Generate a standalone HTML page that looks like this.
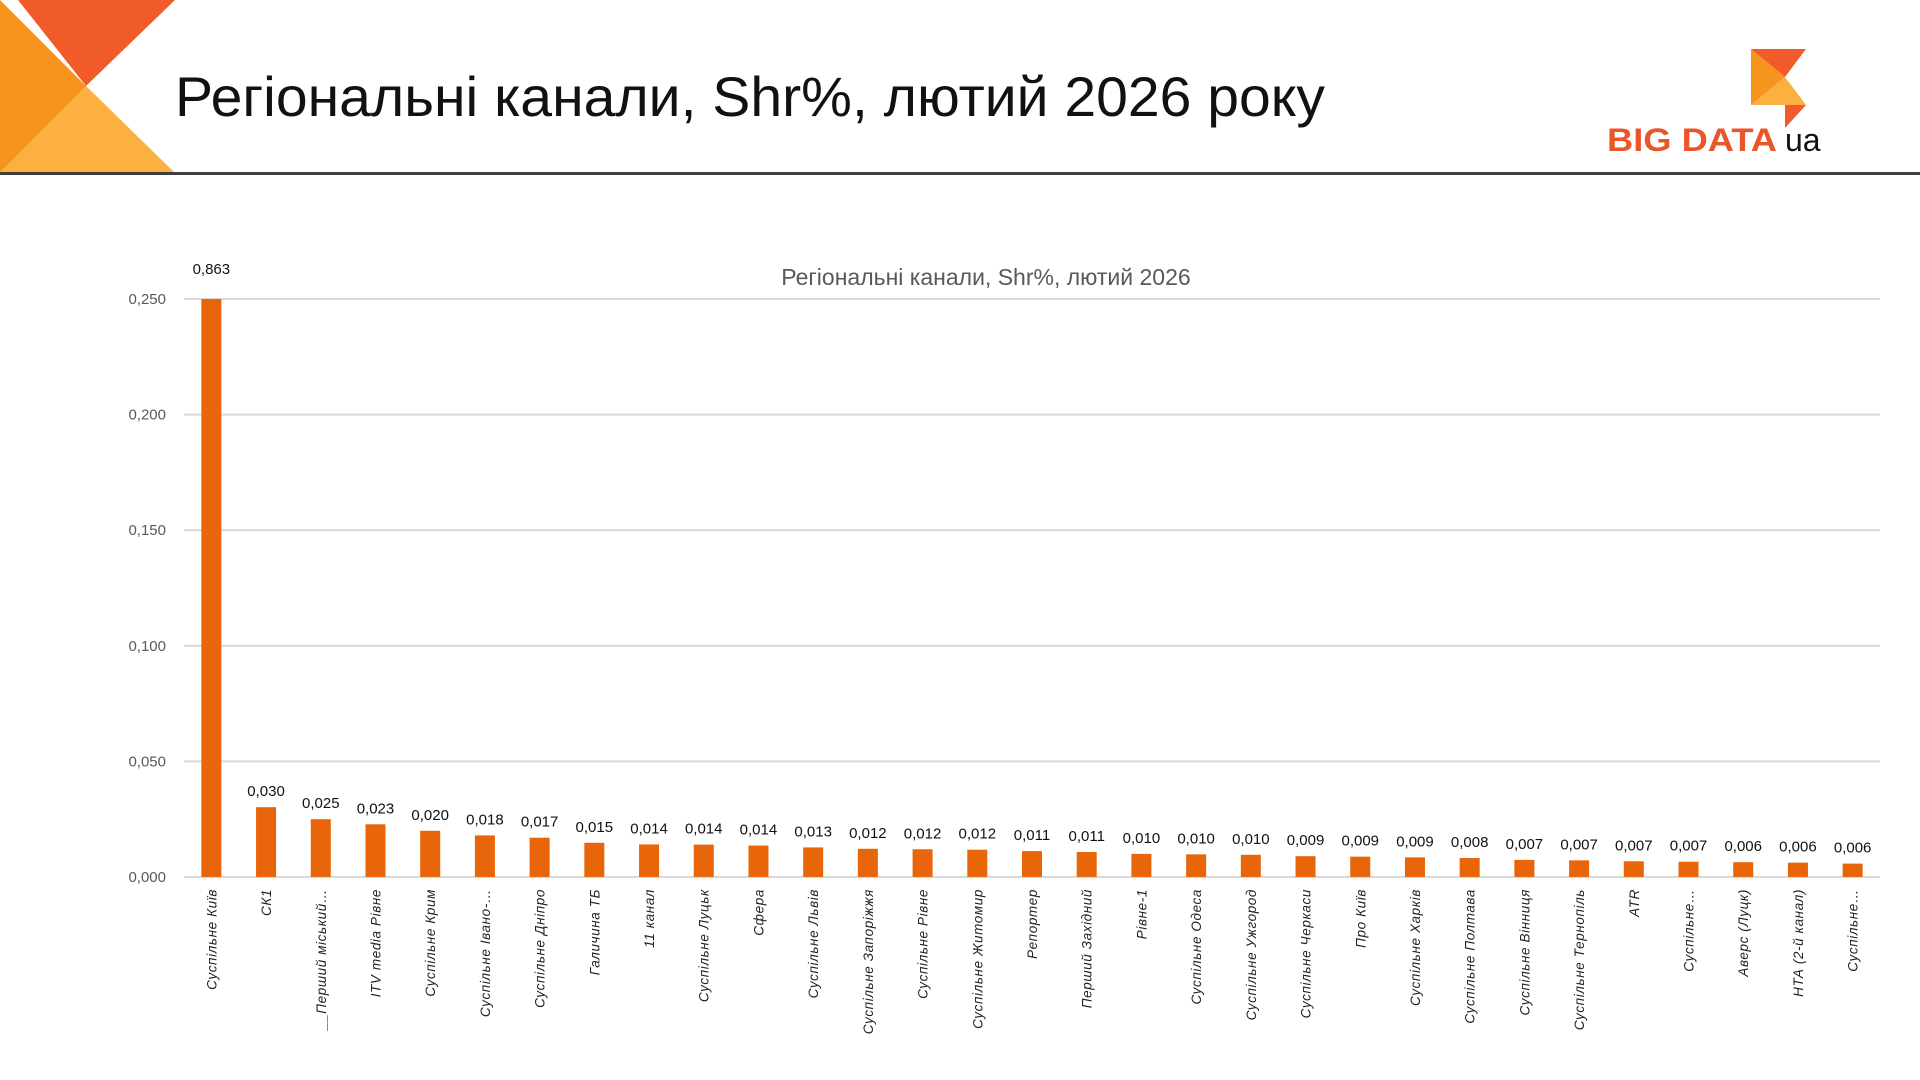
<!DOCTYPE html>
<html><head><meta charset="utf-8">
<style>
html,body{margin:0;padding:0;background:#fff;width:1920px;height:1080px;overflow:hidden}
svg{display:block;font-family:"Liberation Sans","DejaVu Sans",sans-serif}
</style></head>
<body>
<svg id="root" width="1920" height="1080" viewBox="0 0 1920 1080">
  <g>
    <polygon points="0,0 175,0 175,173 0,173" fill="#fff"/>
    <polygon points="0,0 86,86 0,173" fill="#F7941D"/>
    <polygon points="18,0 175,0 86,86" fill="#F15A29"/>
    <polygon points="0,173 86,86 175,173" fill="#FBB040"/>
  </g>
  <text x="175" y="116" font-size="56" fill="#111" textLength="1150" lengthAdjust="spacingAndGlyphs">Регіональні канали, Shr%, лютий 2026 року</text>
  <rect x="0" y="172" width="1920" height="3" fill="#404040"/>
  <g>
    <polygon points="1751,49 1806,49 1785,77" fill="#F15A29"/>
    <polygon points="1751,49 1785,77 1751,105" fill="#F7941D"/>
    <polygon points="1751,105 1785,77 1806,105" fill="#FBB040"/>
    <polygon points="1785,105 1806,105 1785,128" fill="#F15A29"/>
    <text x="1607" y="151" font-size="32" font-weight="bold" fill="#E8562A" textLength="170" lengthAdjust="spacingAndGlyphs">BIG DATA</text>
    <text x="1785" y="151" font-size="32" fill="#111">ua</text>
  </g>
  <text x="986" y="285" font-size="23" fill="#595959" text-anchor="middle">Регіональні канали, Shr%, лютий 2026</text>
  <g id="grid"></g>
  <g id="yaxis"></g>
  <g id="bars"></g>
  <g id="xaxis"></g>
</svg>
<script>
const categories = ["Суспільне Київ","СК1","__Перший міський…","ITV media Рівне","Суспільне Крим","Суспільне Івано-…","Суспільне Дніпро","Галичина ТБ","11 канал","Суспільне Луцьк","Сфера","Суспільне Львів","Суспільне Запоріжжя","Суспільне Рівне","Суспільне Житомир","Репортер","Перший Західний","Рівне-1","Суспільне Одеса","Суспільне Ужгород","Суспільне Черкаси","Про Київ","Суспільне Харків","Суспільне Полтава","Суспільне Вінниця","Суспільне Тернопіль","ATR","Суспільне…","Аверс (Луцк)","НТА (2-й канал)","Суспільне…"];
const values = [0.863,0.0302,0.0250,0.0228,0.0200,0.0180,0.0170,0.0148,0.0141,0.0140,0.0136,0.0128,0.0122,0.0120,0.0118,0.0112,0.0108,0.0100,0.0098,0.0096,0.0090,0.0088,0.0085,0.0082,0.0074,0.0072,0.0068,0.0066,0.0064,0.0062,0.0058];
const yTicks = [0,0.05,0.1,0.15,0.2,0.25];
const yTickLabels = ["0,000","0,050","0,100","0,150","0,200","0,250"];

const NS="http://www.w3.org/2000/svg";
const plotL=184, plotR=1880, plotTop=299, plotBot=877, yMax=0.25;
const yS=v=>plotBot-(Math.min(v,yMax)/yMax)*(plotBot-plotTop);
const band=(plotR-plotL)/categories.length;
const xS=i=>plotL+band*(i+0.5);
const barW=20;
function mk(tag,attrs,parent){const e=document.createElementNS(NS,tag);for(const k in attrs)e.setAttribute(k,attrs[k]);parent.appendChild(e);return e;}
const grid=document.getElementById('grid'),yax=document.getElementById('yaxis'),bars=document.getElementById('bars'),xax=document.getElementById('xaxis');
yTicks.forEach((t,i)=>{
  const l=mk('line',{x1:plotL,x2:plotR,y1:yS(t),y2:yS(t),stroke:'#D9D9D9','stroke-width':2},grid);
  
  
  const tx=mk('text',{x:166,y:yS(t)+5,'font-size':15,fill:'#595959','text-anchor':'end'},yax);
  tx.textContent=yTickLabels[i];
  
  
});
values.forEach((v,i)=>{
  const y=yS(v);
  const r=mk('rect',{x:xS(i)-barW/2,y:y,width:barW,height:plotBot-y,fill:'#E8650A'},bars);
  
  
  const lb=mk('text',{x:xS(i),y:(v>yMax?y-25:y-11),'font-size':15,fill:'#111','text-anchor':'middle'},bars);
  lb.textContent=v.toFixed(3).replace('.',',');
  
  
  const cx=xS(i)+5, cy=889;
  const xl=mk('text',{x:cx,y:cy,'font-size':13.5,'letter-spacing':0.6,fill:'#222','text-anchor':'end','font-style':'italic',transform:`rotate(-90 ${cx} ${cy})`},xax);
  xl.textContent=categories[i];
  
  
});
</script>
</body></html>
